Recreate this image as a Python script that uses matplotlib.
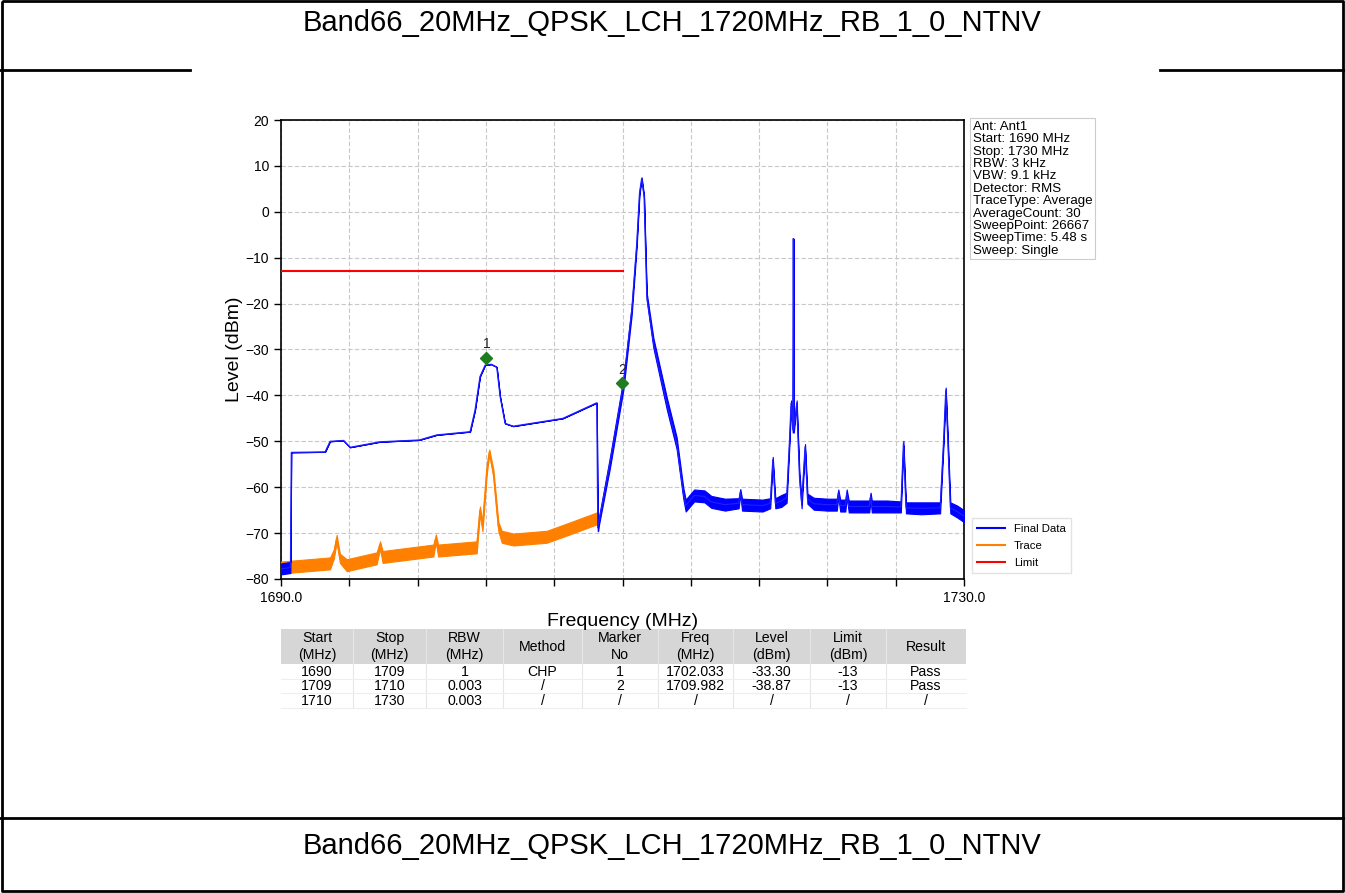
import matplotlib
matplotlib.use("Agg")
import matplotlib.pyplot as plt
from matplotlib.lines import Line2D
import numpy as np

plt.rcParams['font.family'] = ['Liberation Sans', 'DejaVu Sans']

# ---------------- data ----------------
title = "Band66_20MHz_QPSK_LCH_1720MHz_RB_1_0_NTNV"

# Final Data (blue): frequency (MHz), level (dBm), noise half-width (dB)
final_freq = [1690.0, 1690.55, 1690.6, 1692.58, 1692.87, 1693.65, 1694.04, 1695.8,
              1698.1, 1699.12, 1701.07, 1701.36, 1701.65, 1701.95, 1702.3, 1702.63,
              1702.83, 1703.12, 1703.6, 1706.5, 1707.32, 1708.49, 1708.55,
              1709.27, 1710.05, 1710.54, 1710.83, 1710.99, 1711.12, 1711.26, 1711.42,
              1711.81, 1712.59, 1713.17, 1713.56, 1713.7, 1714.2, 1714.8, 1715.2,
              1716.0, 1716.8, 1716.9, 1717.0, 1718.2, 1718.65, 1718.8, 1718.95,
              1719.3, 1719.61, 1719.77, 1719.87, 1719.97, 1720.0, 1720.03, 1720.2,
              1720.36, 1720.49, 1720.69, 1720.83, 1721.2, 1722.0, 1722.55, 1722.64,
              1722.75, 1723.05, 1723.13, 1723.25, 1724.0, 1724.45, 1724.53, 1724.6,
              1725.5, 1726.3, 1726.45, 1726.6, 1727.5, 1728.6, 1728.8, 1728.93,
              1729.05, 1729.2, 1729.6, 1730.0]
final_level = [-77.8, -77.5, -52.4, -52.3, -50.0, -49.8, -51.3, -50.1,
               -49.7, -48.6, -47.9, -43.2, -35.9, -33.4, -33.2, -33.8,
               -40.3, -46.1, -46.7, -45.0, -43.6, -41.6, -68.8,
               -54.5, -37.6, -21.4, -7.0, 4.0, 7.3, 3.3, -18.5,
               -28.6, -41.7, -50.4, -61.3, -64.0, -61.8, -62.0, -63.2,
               -63.8, -63.5, -61.0, -63.8, -64.0, -63.5, -54.0, -63.5,
               -63.0, -62.3, -50.4, -41.7, -47.5, -5.8, -47.5, -41.7,
               -57.7, -63.5, -51.2, -62.5, -63.6, -63.8, -63.8, -61.3,
               -64.0, -64.0, -61.3, -64.2, -64.2, -64.2, -62.0, -64.2,
               -64.2, -64.3, -50.4, -64.5, -64.6, -64.5, -50.0, -38.8,
               -50.0, -64.5, -65.3, -66.3]
final_spread = [1.2, 1.2, 0, 0, 0, 0, 0, 0,
                0, 0, 0, 0, 0, 0, 0, 0,
                0, 0, 0, 0, 0, 0, 0.8,
                1.2, 1.2, 1.0, 0.7, 0.4, 0.2, 0.4, 0.8,
                1.1, 1.3, 1.3, 1.2, 1.3, 1.3, 1.3, 1.3,
                1.3, 1.1, 0.6, 1.3, 1.3, 1.1, 0.6, 1.1,
                1.3, 1.1, 0.8, 0.6, 0.6, 0.0, 0.6, 0.6,
                0.8, 1.1, 0.6, 1.1, 1.3, 1.3, 1.3, 0.8,
                1.3, 1.3, 0.8, 1.3, 1.3, 1.3, 0.8, 1.3,
                1.3, 1.2, 0.5, 1.2, 1.3, 1.2, 0.8, 0.5,
                0.8, 1.2, 1.3, 1.3]

# Trace (orange)
trace_freq = [1690.0, 1692.87, 1693.1, 1693.26, 1693.45, 1693.85, 1695.6, 1695.8,
              1695.95, 1698.92, 1699.07, 1699.2, 1701.46, 1701.65, 1701.8, 1702.05,
              1702.2, 1702.44, 1702.73, 1702.93, 1703.61, 1705.56, 1706.9, 1708.49,
              1708.6]
trace_level = [-77.5, -76.6, -74.5, -71.1, -75.5, -77.0, -75.5, -72.6,
               -75.2, -73.8, -71.1, -73.8, -73.1, -65.0, -68.6, -56.3,
               -52.3, -57.0, -68.6, -70.8, -71.4, -70.8, -69.0, -66.8,
               -68.5]
trace_spread = [1.3, 1.3, 1.0, 0.7, 1.0, 1.3, 1.3, 0.8,
                1.3, 1.3, 0.8, 1.3, 1.3, 0.8, 1.0, 0.8,
                0.5, 0.8, 1.0, 1.3, 1.3, 1.3, 1.3, 1.3,
                1.0]

# Limit line
limit_freq = [1690.0, 1710.0]
limit_level = [-13.0, -13.0]

# Markers (as drawn)
marker_no = ["1", "2"]
marker_freq = [1702.03, 1709.98]
marker_level = [-31.8, -37.4]

info_lines = ["Ant: Ant1", "Start: 1690 MHz", "Stop: 1730 MHz", "RBW: 3 kHz",
              "VBW: 9.1 kHz", "Detector: RMS", "TraceType: Average",
              "AverageCount: 30", "SweepPoint: 26667", "SweepTime: 5.48 s",
              "Sweep: Single"]

x_ticks = [1690, 1694, 1698, 1702, 1706, 1710, 1714, 1718, 1722, 1726, 1730]
x_ticklabels = ["1690.0", "", "", "", "", "", "", "", "", "", "1730.0"]
y_ticks = [20, 10, 0, -10, -20, -30, -40, -50, -60, -70, -80]

table_header = [["Start", "(MHz)"], ["Stop", "(MHz)"], ["RBW", "(MHz)"], ["Method", ""],
                ["Marker", "No"], ["Freq", "(MHz)"], ["Level", "(dBm)"],
                ["Limit", "(dBm)"], ["Result", ""]]
table_rows = [["1690", "1709", "1", "CHP", "1", "1702.033", "-33.30", "-13", "Pass"],
              ["1709", "1710", "0.003", "/", "2", "1709.982", "-38.87", "-13", "Pass"],
              ["1710", "1730", "0.003", "/", "/", "/", "/", "/", "/"]]

# ---------------- figure ----------------
W, H = 1345, 893
fig = plt.figure(figsize=(W / 100, H / 100), dpi=100)
fig.patch.set_facecolor('white')

# page overlay in pixel coordinates
pg = fig.add_axes([0, 0, 1, 1], zorder=0)
pg.set_xlim(0, W)
pg.set_ylim(H, 0)
pg.axis('off')

# borders
pg.plot([2, 2, 1343, 1343, 2], [1, 891, 891, 1, 1], color='black', lw=2, solid_capstyle='butt')
pg.plot([0, 190], [70, 70], color='black', lw=2)
pg.plot([1160, 1345], [70, 70], color='black', lw=2)
pg.plot([0, 1345], [818, 818], color='black', lw=2)
pg.text(672, 23, title, fontsize=21, ha='center', va='center')
pg.text(672, 846, title, fontsize=21, ha='center', va='center')

# main axes
ax_l, ax_r, ax_t, ax_b = 281, 964, 120, 579
ax = fig.add_axes([ax_l / W, 1 - ax_b / H, (ax_r - ax_l) / W, (ax_b - ax_t) / H], zorder=2)

fa = np.array(final_freq)
fl = np.array(final_level)
fs = np.array(final_spread)
ta = np.array(trace_freq)
tl = np.array(trace_level)
ts = np.array(trace_spread)

ax.fill_between(ta, tl - ts, tl + ts, color='#ff8000', lw=0.8, zorder=3)
ax.plot(ta, tl, color='#ff8000', lw=1.0, zorder=3)
ax.fill_between(fa, fl - fs, fl + fs, color='#0000ff', lw=0.8, zorder=4)
ax.plot(fa, fl, color='#2020ff', lw=0.8, zorder=4)
ax.plot(limit_freq, limit_level, color='#ff0000', lw=1.5, zorder=5)

for no, mf, ml in zip(marker_no, marker_freq, marker_level):
    ax.plot([mf], [ml], marker='D', color='#1e7d1e', ms=6.5, zorder=6)
    ax.annotate(no, (mf, ml), xytext=(0, 5), textcoords='offset points',
                ha='center', va='bottom', fontsize=10, color='#222222', zorder=6)

ax.set_xlim(1690, 1730)
ax.set_ylim(-80, 20)
ax.set_xticks(x_ticks)
ax.set_xticklabels(x_ticklabels)
ax.set_yticks(y_ticks)
ax.tick_params(direction='out', length=5, width=1, labelsize=10, color='black')
ax.grid(True, color='#c8c8c8', ls=(0, (4, 2)), lw=0.8)
for s in ax.spines.values():
    s.set_linewidth(1.2)
ax.set_xlabel("Frequency (MHz)", fontsize=14, labelpad=6)
ax.set_ylabel("Level (dBm)", fontsize=14, labelpad=2)

# info box
fig.text(973 / W, 1 - 121 / H, "\n".join(info_lines), fontsize=9.6, va='top', ha='left',
         linespacing=1.04, zorder=3,
         bbox=dict(boxstyle='square,pad=0.2', facecolor='white', edgecolor='#cccccc', lw=0.8))

# legend
handles = [Line2D([0], [0], color='#0000ff', lw=1.5),
           Line2D([0], [0], color='#ff8000', lw=1.5),
           Line2D([0], [0], color='#ff0000', lw=1.5)]
fig.legend(handles, ["Final Data", "Trace", "Limit"], loc='lower left',
           bbox_to_anchor=(966 / W, 1 - 579 / H), fontsize=8.2, frameon=True,
           fancybox=False, edgecolor='#dddddd', handlelength=2.4, borderpad=0.5,
           labelspacing=0.6, handletextpad=0.8)

# table
col_edges = [281, 353, 426, 503, 582, 658, 733, 810, 886, 966]
head_top, head_bot = 629, 664
row_h = 14.5
pg.add_patch(plt.Rectangle((col_edges[0], head_top), col_edges[-1] - col_edges[0],
                           head_bot - head_top, facecolor='#d6d6d6', edgecolor='none'))
tfs = 10.2
for i in range(len(col_edges) - 1):
    cx = (col_edges[i] + col_edges[i + 1]) / 2
    top, bot = table_header[i]
    if bot:
        pg.text(cx, 638, top, fontsize=tfs, ha='center', va='center')
        pg.text(cx, 655, bot, fontsize=tfs, ha='center', va='center')
    else:
        pg.text(cx, 647, top, fontsize=tfs, ha='center', va='center')
    for r, row in enumerate(table_rows):
        cy = 672 + row_h * r
        pg.text(cx, cy, row[i], fontsize=tfs, ha='center', va='center')
for x in col_edges[1:-1]:
    pg.plot([x, x], [head_top, head_bot + 3 * row_h], color='#e6e6e6', lw=0.8)
for r in range(1, 4):
    y = head_bot + row_h * r
    pg.plot([col_edges[0], col_edges[-1]], [y, y], color='#eeeeee', lw=0.8)

fig.savefig("out.png", dpi=100)
